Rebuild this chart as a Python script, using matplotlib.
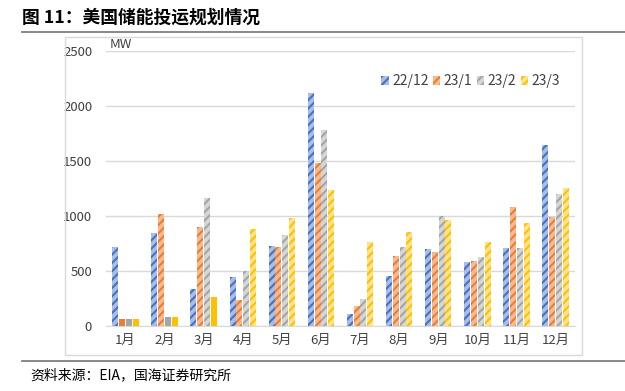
import numpy as np
import matplotlib
matplotlib.use('Agg')
import matplotlib.pyplot as plt
from matplotlib.patches import Rectangle, Patch
from matplotlib.lines import Line2D

plt.rcParams['font.family'] = ['Noto Sans CJK SC', 'DejaVu Sans']
plt.rcParams['hatch.linewidth'] = 1.5

months = ['1月', '2月', '3月', '4月', '5月', '6月', '7月', '8月', '9月', '10月', '11月', '12月']
series = ['22/12', '23/1', '23/2', '23/3']
v_2212 = [715, 845, 335, 447, 725, 2116, 112, 453, 701, 586, 713, 1647]
v_2301 = [60, 1018, 898, 236, 722, 1484, 178, 632, 677, 595, 1079, 995]
v_2302 = [60, 80, 1164, 496, 831, 1783, 242, 719, 1004, 626, 710, 1197]
v_2303 = [60, 80, 263, 886, 982, 1233, 768, 852, 967, 762, 940, 1254]
# bars drawn solid instead of striped (series index, month index)
solid = {(1, 0), (2, 0), (3, 0), (2, 1), (3, 1), (3, 2)}

main_cols = ['#4472C4', '#ED7D31', '#A5A5A5', '#FFC000']
light_cols = ['#A9BDE6', '#F6B991', '#D6D6D6', '#FFE38A']

W, H = 625, 391
fig = plt.figure(figsize=(W / 100, H / 100), dpi=100)

def fx(px):
    return px / W

def fy(py):
    return 1 - py / H

# title, lines, frame
fig.text(fx(22), fy(18), '图 11：美国储能投运规划情况', fontsize=12.8, fontweight='bold',
         va='center', ha='left')
fig.add_artist(Line2D([fx(22), 1], [fy(32), fy(32)], color='#7F7F7F', lw=1.3))
fig.add_artist(Line2D([fx(22), 1], [fy(361), fy(361)], color='#7F7F7F', lw=1.3))
fig.add_artist(Rectangle((fx(65), fy(355)), fx(582) - fx(65), fy(37) - fy(355),
                         fill=False, edgecolor='#D9D9D9', lw=1))
fig.text(fx(30), fy(375), '资料来源：EIA，国海证券研究所', fontsize=10, va='center', ha='left')

ax = fig.add_axes([fx(106), fy(326), fx(575) - fx(106), fy(51) - fy(326)])

x = np.arange(len(months))
bw = 0.155
step = 0.175
data = [v_2212, v_2301, v_2302, v_2303]
for i, vals in enumerate(data):
    off = (i - 1.5) * step
    for j, v in enumerate(vals):
        if (i, j) in solid:
            ax.bar(x[j] + off, v, bw, color=main_cols[i], lw=0, zorder=3)
        else:
            ax.bar(x[j] + off, v, bw, facecolor=light_cols[i], edgecolor=main_cols[i],
                   hatch='////', lw=0, zorder=3)

ax.set_xlim(-0.5, 11.5)
ax.set_ylim(0, 2500)
ax.set_yticks([0, 500, 1000, 1500, 2000, 2500])
ax.set_xticks(x)
ax.set_xticklabels(months)
ax.tick_params(axis='both', length=0, labelsize=9.5, colors='#404040')
ax.tick_params(axis='x', pad=6)
ax.tick_params(axis='y', pad=10)
ax.grid(axis='y', color='#D9D9D9', lw=1, zorder=0)
for s in ['top', 'right', 'left']:
    ax.spines[s].set_visible(False)
ax.spines['bottom'].set_color('#D9D9D9')
ax.set_facecolor('none')

ax.text(0.008, 1.0, 'MW', transform=ax.transAxes, fontsize=9.5, va='bottom', ha='left',
        color='#404040')

handles = [Patch(facecolor=light_cols[i], edgecolor=main_cols[i], hatch='////', lw=0)
           for i in range(4)]
ax.legend(handles, series, loc='upper right', bbox_to_anchor=(0.995, 0.96), ncol=4,
          frameon=False, fontsize=10, handlelength=0.55, handleheight=0.55,
          handletextpad=0.25, columnspacing=0.3, labelcolor='#404040')

fig.savefig('out.png', dpi=100)
